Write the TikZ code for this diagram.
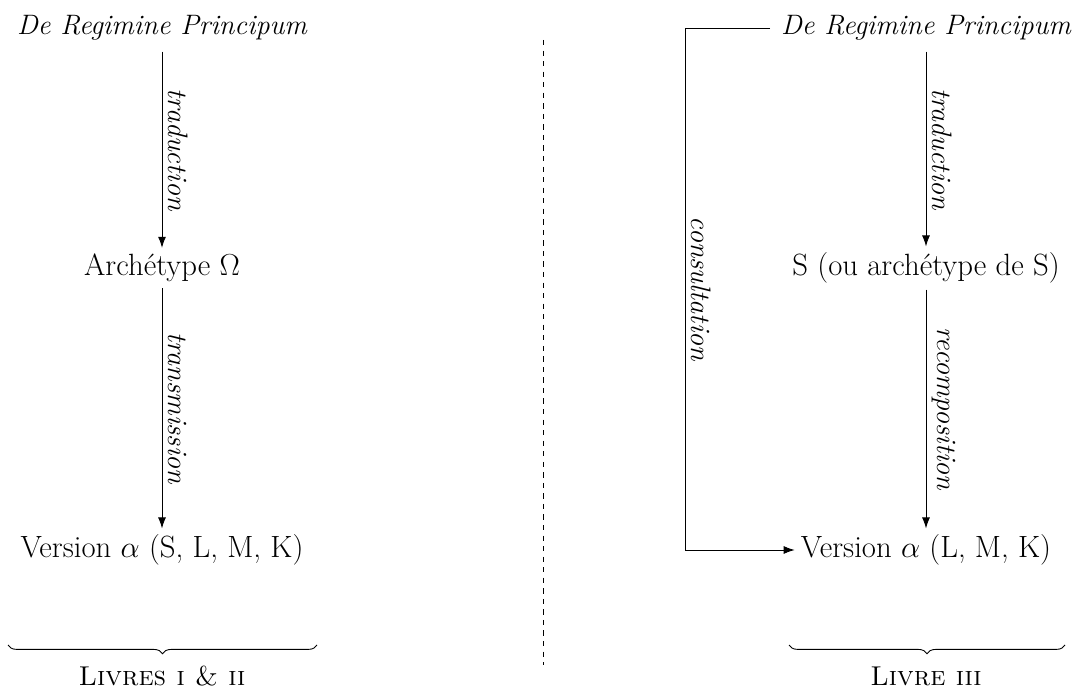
\documentclass[tikz,border=0pt]{standalone}
\usepackage{xcolor}
\usepackage{tikz}
\usetikzlibrary{positioning,arrows.meta,decorations.pathreplacing}

\begin{document}
\begin{tikzpicture}[
  txt/.style={font=\fontsize{17.5}{21}\selectfont},
  ttl/.style={font=\fontsize{16}{19}\selectfont\itshape, outer sep=3pt},
  book/.style={font=\fontsize{15.5}{19}\selectfont\scshape},
  lbl/.style={font=\fontsize{16}{19}\selectfont\itshape, rotate=-90, anchor=south},
  arr/.style={-{Latex[length=2.2mm, width=1.6mm]}, line width=0.5pt},
  brc/.style={decorate, decoration={brace, mirror, amplitude=5pt}, line width=0.5pt},
]
\useasboundingbox (0,0) rectangle (21.44,13.82);

\node[ttl]  (lde)   at (3.24,13.26) {De Regimine Principum};
\node[txt]  (larch) at (3.24,8.46)  {Archétype $\Omega$};
\node[txt]  (lver)  at (3.24,2.82)  {Version $\alpha$ (S, L, M, K)};
\node[book] (lbook) at (3.24,0.30)  {Livres i \& ii};

\node[ttl]  (rde)   at (18.52,13.26) {De Regimine Principum};
\node[txt]  (rarch) at (18.52,8.46)  {S (ou archétype de S)};
\node[txt]  (rver)  at (18.52,2.82)  {Version $\alpha$ (L, M, K)};
\node[book] (rbook) at (18.52,0.30)  {Livre iii};

\coordinate (cons) at (13.70,0);
\coordinate (ltop) at (10.86,13.02);
\coordinate (lbot) at (10.86,0.52);
\coordinate (lb1) at (0.16,0.92);
\coordinate (lb2) at (6.34,0.92);
\coordinate (rb1) at (15.78,0.92);
\coordinate (rb2) at (21.30,0.92);

\draw[arr] (lde) -- node[lbl] {traduction} (larch);
\draw[arr] (larch) -- node[lbl] {transmission} (lver);
\draw[arr] (rde) -- node[lbl] {traduction} (rarch);
\draw[arr] (rarch) -- node[lbl] {recomposition} (rver);
\draw[arr] (rde.west) -- (rde.west -| cons) -- node[lbl] {consultation} (rver.west -| cons) -- (rver.west);

\draw[dashed, line width=0.5pt] (ltop) -- (lbot);

\draw[brc] (lb1) -- (lb2);
\draw[brc] (rb1) -- (rb2);
\end{tikzpicture}
\end{document}
